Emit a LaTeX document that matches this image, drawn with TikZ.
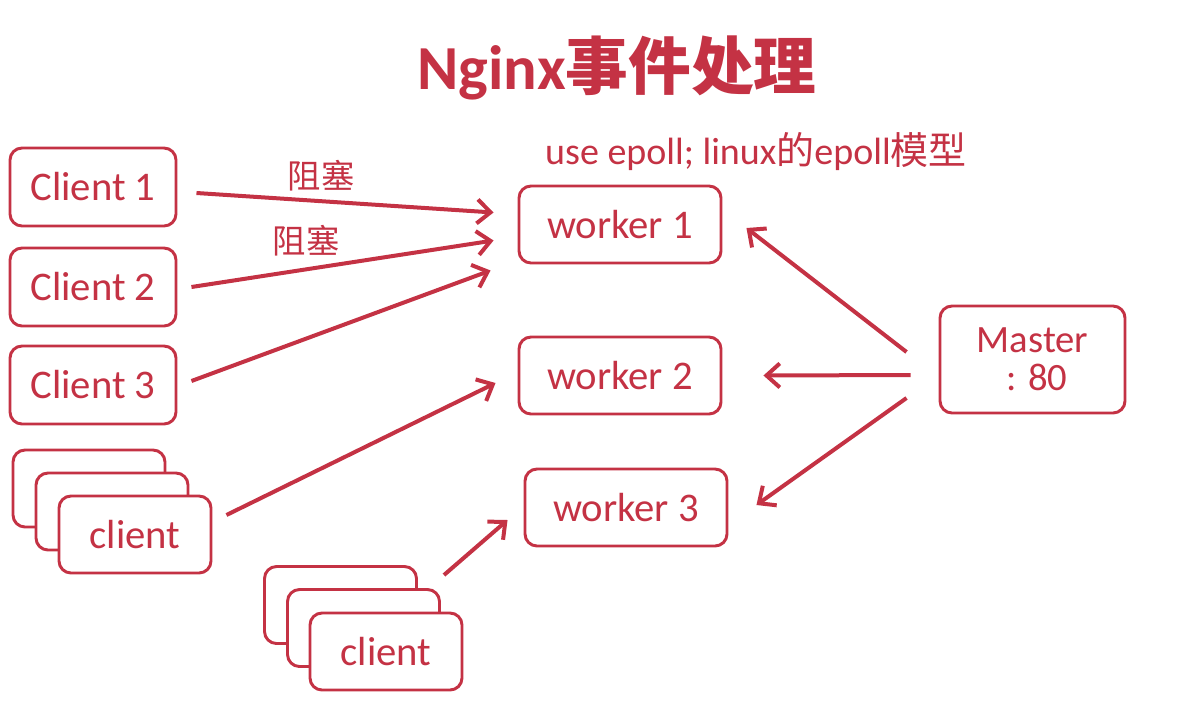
\documentclass[tikz,border=0pt]{standalone}
\usepackage{fontspec}
\setmainfont{Carlito}
\newfontfamily\cjk{Noto Sans CJK SC}
\usetikzlibrary{calc,arrows.meta}
\definecolor{ngred}{RGB}{196,50,68}

\begin{document}
\begin{tikzpicture}[x=0.75pt,y=-0.75pt,
  box/.style={draw=ngred,line width=2.2pt,rounded corners=9pt,fill=white,text=ngred,
    font=\fontsize{30.5}{36}\selectfont,inner sep=0pt},
  cbox/.style={box,minimum width=124.5pt,minimum height=58.5pt},
  wbox/.style={box,minimum width=151.5pt,minimum height=57.75pt},
  sbox/.style={box,minimum width=114pt,minimum height=57.75pt},
  arr/.style={draw=ngred,line width=3pt,-{Straight Barb[length=10pt,width=18pt]}}]
\useasboundingbox (0,0) rectangle (1178,711);
\node[text=ngred,font=\fontsize{47}{56}\selectfont\bfseries] (title) at (617,68) {Nginx{\cjk 事件处理}};
\node[text=ngred,font=\fontsize{28.5}{34}\selectfont] (epoll) at (756,152) {use epoll; linux{\cjk 的}epoll{\cjk 模型}};
\node[cbox] (c1) at (93,187) {Client 1};
\node[cbox] (c2) at (93,287) {Client 2};
\node[cbox] (c3) at (93,385) {Client 3};
\node[sbox] (s1a) at (89,488.5) {};
\node[sbox] (s1b) at (112,511.5) {};
\node[sbox] (s1) at (135,534.5) {client};
\node[sbox] (s2a) at (340.5,605) {};
\node[sbox] (s2b) at (363.5,628) {};
\node[sbox] (s2) at (386,651.5) {client};
\node[wbox] (w1) at (620,224.5) {worker 1};
\node[wbox] (w2) at (620,375.5) {worker 2};
\node[wbox] (w3) at (626,507.5) {worker 3};
\node[box,minimum width=138.75pt,minimum height=80.25pt,align=center,
  font=\fontsize{29}{28.5}\selectfont] (m) at (1032.5,359.5) {Master\\ \ : 80};
\draw[arr] ($(c1.east)+(19,6)$) -- ($(w1.west)+(-24,-12)$)
  node[pos=0.42,above=3pt,text=ngred,font=\fontsize{25}{30}\selectfont\cjk] (b1) {阻塞};
\draw[arr] ($(c2.east)+(14,0)$) -- ($(w1.west)+(-24,16)$)
  node[pos=0.38,above=5pt,text=ngred,font=\fontsize{25}{30}\selectfont\cjk] (b2) {阻塞};
\draw[arr] ($(c3.east)+(14,-4)$) -- ($(w1.west)+(-27,46)$);
\draw[arr] ($(s1.east)+(14,-19.5)$) -- ($(w2.west)+(-22,7.5)$);
\draw[arr] ($(s2a.north east)+(26,10)$) -- ($(w3.west)+(-16,12.5)$);
\draw[arr] ($(m.west)+(-32,-7.5)$) -- ($(w1.east)+(24,3.5)$);
\draw[arr] ($(m.west)+(-28,15.5)$) -- ($(w2.east)+(41,0)$);
\draw[arr] ($(m.west)+(-32,38.5)$) -- ($(w3.east)+(28,-2.5)$);
\end{tikzpicture}
\end{document}
